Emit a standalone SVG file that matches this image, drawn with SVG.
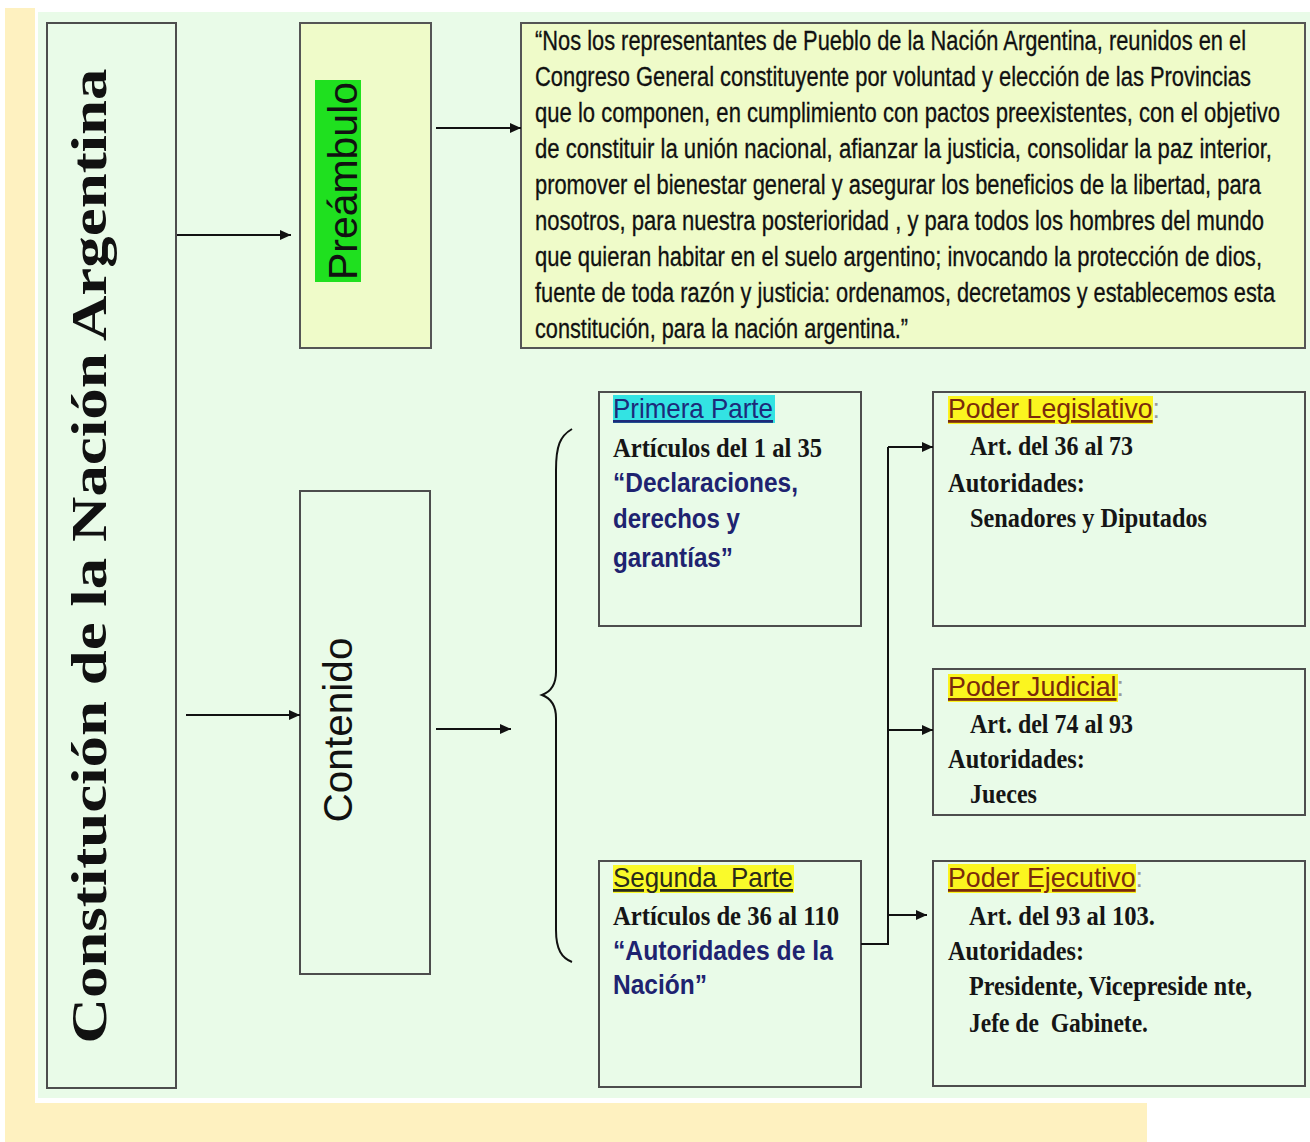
<svg xmlns="http://www.w3.org/2000/svg" width="1310" height="1142" viewBox="0 0 1310 1142">
<defs>
<style>
.box{fill:#e9fbe8;stroke:#4d4d4d;stroke-width:2}
.ybox{fill:#effbc9;stroke:#555;stroke-width:2}
.con{fill:none;stroke:#111;stroke-width:2}
.pre{font-family:"Liberation Sans",Arial,sans-serif;font-size:27px;fill:#111;stroke:#111;stroke-width:0.3}
.body{font-family:"Liberation Serif","Times New Roman",serif;font-weight:bold;font-size:28px;fill:#151515}
.quote{font-family:"Liberation Sans",Arial,sans-serif;font-weight:bold;font-size:27px;fill:#1e2370}
.head{font-family:"Liberation Sans",Arial,sans-serif;font-size:28px}
.ul{text-decoration:underline}
.colon{fill:#999}
.vert{font-family:"Liberation Sans",Arial,sans-serif;font-size:40px;fill:#111}
</style>
<marker id="ah" markerUnits="userSpaceOnUse" markerWidth="12" markerHeight="10" refX="11" refY="5" orient="auto">
<path d="M0,0 L11,5 L0,10 z" fill="#111"/>
</marker>
</defs>

<rect x="0" y="0" width="1310" height="1142" fill="#ffffff"/>
<rect x="5" y="8" width="30" height="1134" fill="#fef1c0"/>
<rect x="5" y="1103" width="1142" height="39" fill="#fef1c0"/>
<rect x="38" y="12" width="1272" height="1086" fill="#e9fbe8"/>

<g id="constitucion">
<rect class="box" x="47" y="23" width="129" height="1065"/>
<text transform="translate(106,556) rotate(-90)" text-anchor="middle" font-family="'Liberation Serif','Times New Roman',serif" font-weight="bold" font-size="50" fill="#111" textLength="975" lengthAdjust="spacingAndGlyphs">Constitución de la Nación Argentina</text>
</g>

<g id="preambulo">
<rect class="ybox" x="300" y="23" width="131" height="325"/>
<rect x="315" y="80" width="46" height="202" fill="#1fe01f"/>
<text class="vert" transform="translate(357,181) rotate(-90)" text-anchor="middle" textLength="198" lengthAdjust="spacingAndGlyphs">Preámbulo</text>
</g>

<g id="preambulo-texto">
<rect class="ybox" x="521" y="23" width="784" height="325"/>
<text class="pre" x="535" y="50" textLength="711" lengthAdjust="spacingAndGlyphs">“Nos los representantes de Pueblo de la Nación Argentina, reunidos en el</text>
<text class="pre" x="535" y="86" textLength="716" lengthAdjust="spacingAndGlyphs">Congreso General constituyente por voluntad y elección de las Provincias</text>
<text class="pre" x="535" y="122" textLength="745" lengthAdjust="spacingAndGlyphs">que lo componen, en cumplimiento con pactos preexistentes, con el objetivo</text>
<text class="pre" x="535" y="158" textLength="737" lengthAdjust="spacingAndGlyphs">de constituir la unión nacional, afianzar la justicia, consolidar la paz interior,</text>
<text class="pre" x="535" y="194" textLength="726" lengthAdjust="spacingAndGlyphs">promover el bienestar general y asegurar los beneficios de la libertad, para</text>
<text class="pre" x="535" y="230" textLength="729" lengthAdjust="spacingAndGlyphs">nosotros, para nuestra posterioridad , y para todos los hombres del mundo</text>
<text class="pre" x="535" y="266" textLength="727" lengthAdjust="spacingAndGlyphs">que quieran habitar en el suelo argentino; invocando la protección de dios,</text>
<text class="pre" x="535" y="302" textLength="740" lengthAdjust="spacingAndGlyphs">fuente de toda razón y justicia: ordenamos, decretamos y establecemos esta</text>
<text class="pre" x="535" y="338" textLength="373" lengthAdjust="spacingAndGlyphs">constitución, para la nación argentina.”</text>
</g>

<g id="contenido">
<rect class="box" x="300" y="491" width="130" height="483"/>
<text class="vert" transform="translate(352,730) rotate(-90)" text-anchor="middle" textLength="185" lengthAdjust="spacingAndGlyphs">Contenido</text>
</g>

<g id="primera-parte">
<rect class="box" x="599" y="392" width="262" height="234"/>
<rect x="613" y="395" width="162" height="28" fill="#33e3e3"/>
<text class="head ul" x="613" y="418" fill="#1d2a7a" textLength="160" lengthAdjust="spacingAndGlyphs">Primera Parte</text>
<text class="body" x="613" y="457" textLength="209" lengthAdjust="spacingAndGlyphs">Artículos del 1 al 35</text>
<text class="quote" x="613" y="492" textLength="185" lengthAdjust="spacingAndGlyphs">“Declaraciones,</text>
<text class="quote" x="613" y="528" textLength="127" lengthAdjust="spacingAndGlyphs">derechos y</text>
<text class="quote" x="613" y="567" textLength="120" lengthAdjust="spacingAndGlyphs">garantías”</text>
</g>

<g id="segunda-parte">
<rect class="box" x="599" y="861" width="262" height="226"/>
<rect x="613" y="865" width="181" height="28" fill="#fafa2a"/>
<text class="head ul" x="613" y="887" fill="#2a2a1a" xml:space="preserve" textLength="180" lengthAdjust="spacingAndGlyphs">Segunda  Parte</text>
<text class="body" x="613" y="925" textLength="226" lengthAdjust="spacingAndGlyphs">Artículos de 36 al 110</text>
<text class="quote" x="613" y="960" textLength="220" lengthAdjust="spacingAndGlyphs">“Autoridades de la</text>
<text class="quote" x="613" y="994" textLength="94" lengthAdjust="spacingAndGlyphs">Nación”</text>
</g>

<g id="poder-legislativo">
<rect class="box" x="933" y="392" width="372" height="234"/>
<rect x="948" y="396" width="205" height="28" fill="#fbf51f"/>
<text class="head" x="948" y="418" fill="#7a2a0c" textLength="212" lengthAdjust="spacingAndGlyphs"><tspan class="ul">Poder Legislativo</tspan><tspan class="colon">:</tspan></text>
<text class="body" x="970" y="455" textLength="163" lengthAdjust="spacingAndGlyphs">Art. del 36 al 73</text>
<text class="body" x="948" y="492" textLength="137" lengthAdjust="spacingAndGlyphs">Autoridades:</text>
<text class="body" x="970" y="527" textLength="237" lengthAdjust="spacingAndGlyphs">Senadores y Diputados</text>
</g>

<g id="poder-judicial">
<rect class="box" x="933" y="669" width="372" height="146"/>
<rect x="948" y="674" width="170" height="28" fill="#fbf51f"/>
<text class="head" x="948" y="696" fill="#7a2a0c" textLength="176" lengthAdjust="spacingAndGlyphs"><tspan class="ul">Poder Judicial</tspan><tspan class="colon">:</tspan></text>
<text class="body" x="970" y="733" textLength="163" lengthAdjust="spacingAndGlyphs">Art. del 74 al 93</text>
<text class="body" x="948" y="768" textLength="137" lengthAdjust="spacingAndGlyphs">Autoridades:</text>
<text class="body" x="970" y="803" textLength="67" lengthAdjust="spacingAndGlyphs">Jueces</text>
</g>

<g id="poder-ejecutivo">
<rect class="box" x="933" y="861" width="372" height="225"/>
<rect x="948" y="864" width="188" height="29" fill="#fbf51f"/>
<text class="head" x="948" y="887" fill="#7a2a0c" textLength="195" lengthAdjust="spacingAndGlyphs"><tspan class="ul">Poder Ejecutivo</tspan><tspan class="colon">:</tspan></text>
<text class="body" x="969" y="925" textLength="186" lengthAdjust="spacingAndGlyphs">Art. del 93 al 103.</text>
<text class="body" x="948" y="960" textLength="136" lengthAdjust="spacingAndGlyphs">Autoridades:</text>
<text class="body" x="969" y="995" textLength="283" lengthAdjust="spacingAndGlyphs">Presidente, Vicepreside nte,</text>
<text class="body" x="969" y="1032" xml:space="preserve" textLength="179" lengthAdjust="spacingAndGlyphs">Jefe de  Gabinete.</text>
</g>

<g id="connectors">
<line class="con" x1="177" y1="235" x2="291" y2="235" marker-end="url(#ah)"/>
<line class="con" x1="436" y1="128" x2="521" y2="128" marker-end="url(#ah)"/>
<line class="con" x1="186" y1="715" x2="300" y2="715" marker-end="url(#ah)"/>
<line class="con" x1="436" y1="729" x2="511" y2="729" marker-end="url(#ah)"/>
<path class="con" stroke-width="1.6" d="M572,429 C560,436 556,446 556,470 L556,672 C556,686 550,692 542,695 C550,698 556,704 556,718 L556,930 C556,950 562,958 572,962"/>
<polyline class="con" points="861,944 888,944 888,447"/>
<line class="con" x1="888" y1="447" x2="933" y2="447" marker-end="url(#ah)"/>
<line class="con" x1="888" y1="730" x2="933" y2="730" marker-end="url(#ah)"/>
<line class="con" x1="888" y1="915" x2="927" y2="915" marker-end="url(#ah)"/>
</g>
</svg>
